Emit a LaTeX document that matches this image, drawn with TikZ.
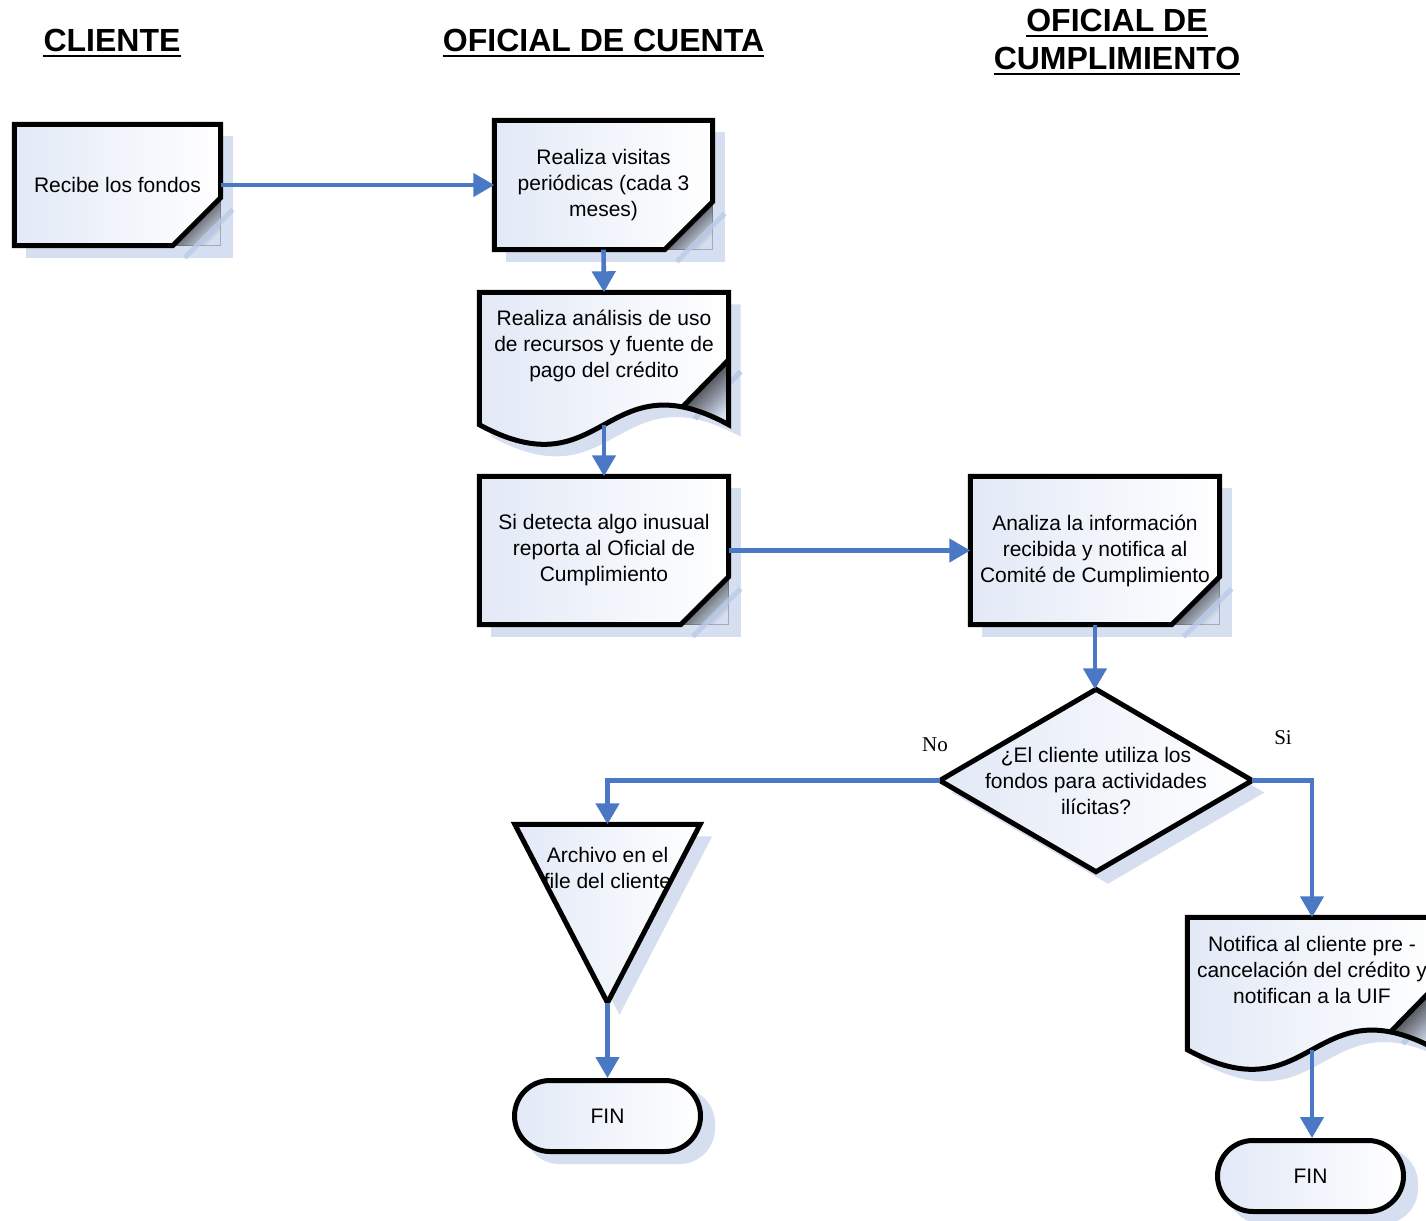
\documentclass[tikz,border=0pt]{standalone}
\usepackage{fontspec}
\setmainfont{Liberation Sans}
\newfontfamily\notefont{Liberation Serif}
\usetikzlibrary{calc,arrows.meta}

\definecolor{flowblue}{HTML}{4A78C4}
\definecolor{shadowc}{HTML}{D5DFF0}
\definecolor{shadowline}{HTML}{BACBE8}
\definecolor{fillA}{HTML}{E2E9F6}
\definecolor{folddark}{HTML}{3C3C3C}

\pgfdeclarelayer{bg}
\pgfsetlayers{bg,main}

\tikzset{
  body/.style={font=\fontsize{21}{26}\selectfont, align=center, inner sep=0pt},
  blk/.style 2 args={shape=rectangle, inner sep=0pt, minimum width=#1, minimum height=#2},
  outline/.style={draw=black, line width=5pt, line join=miter, miter limit=10},
  shapefill/.style={left color=fillA, right color=white},
  foldshade/.style={top color=black, middle color=folddark, bottom color=shadowc, shading angle=45},
  flow/.style={draw=flowblue, line width=4.6pt, -{Triangle[width=23pt,length=21pt]}},
  title/.style={font=\fontsize{32}{38}\selectfont\bfseries, inner sep=0pt, anchor=base},
  titlebar/.style={line width=2.6pt},
  branch/.style={font=\notefont\fontsize{21}{25}\selectfont, inner sep=0pt},
  terminal/.style={body, blk={186pt}{71pt}, rounded corners=35.5pt, outline, shapefill},
}

% process box with a folded lower right corner
\newcommand\procdeco[1]{%
  \fill[shadowc] ([shift={(12,12)}]#1.north west) rectangle ([shift={(12,12)}]#1.south east);
  \fill[foldshade]
    ([shift={(0,-48)}]#1.south east) -- (#1.south east) -- ([shift={(-48,0)}]#1.south east) -- cycle;
  \draw[shadowline, line width=5pt, opacity=.8] ([shift={(12,-36)}]#1.south east) -- ([shift={(-36,12)}]#1.south east);
  \path[outline, shapefill] (#1.north west) -- (#1.north east) -- ([shift={(0,-48)}]#1.south east)
    -- ([shift={(-48,0)}]#1.south east) -- (#1.south west) -- cycle;
}

% outline of a document shape, shifted by (#2,#3)
\newcommand\docpath[3]{([shift={(#2,#3)}]#1.north west) -- ([shift={(#2,#3)}]#1.north east)
  -- ([shift={(#2,#3)}]#1.south east) .. controls ([shift={(#2-125,#3-68)}]#1.south east)
  and ([shift={(#2+125,#3+68)}]#1.south west) .. ([shift={(#2,#3)}]#1.south west) -- cycle}

\newcommand\docdeco[1]{%
  \fill[shadowc] \docpath{#1}{12}{12};
  \draw[shadowline, line width=5pt] ([shift={(12,-53)}]#1.south east) -- ([shift={(-34,-6)}]#1.south east);
  \path[shapefill] \docpath{#1}{0}{0};
  \fill[foldshade]
    ([shift={(0,-65)}]#1.south east) -- ([shift={(-46,-18)}]#1.south east) -- (#1.south east) -- cycle;
  \path[outline] \docpath{#1}{0}{0};
  \draw[outline] ([shift={(0,-65)}]#1.south east) -- ([shift={(-46,-18)}]#1.south east);
}

\newcommand\diadeco[1]{%
  \fill[shadowc] ([shift={(12,12)}]#1.north) -- ([shift={(12,12)}]#1.east)
    -- ([shift={(12,12)}]#1.south) -- ([shift={(12,12)}]#1.west) -- cycle;
  \path[outline, shapefill] (#1.north) -- (#1.east) -- (#1.south) -- (#1.west) -- cycle;
}

\newcommand\trideco[1]{%
  \fill[shadowc] ([shift={(12,12)}]#1.north west) -- ([shift={(12,12)}]#1.north east)
    -- ([shift={(12,12)}]#1.south) -- cycle;
  \path[outline, shapefill] (#1.north west) -- (#1.north east) -- (#1.south) -- cycle;
}

\newcommand\termshadow[1]{%
  \fill[shadowc, rounded corners=35.5pt] ([shift={(12,10)}]#1.north west) rectangle ([shift={(12,10)}]#1.south east);
}

\begin{document}
\begin{tikzpicture}[x=1pt, y=-1pt]
\useasboundingbox (0,0) rectangle (1426,1220);

% lane headings
\node[title] (hcli) at (112,52) {CLIENTE};
\node[title] (hofc) at (603.5,52) {OFICIAL DE CUENTA};
\node[title] (hcum1) at (1117,32) {OFICIAL DE};
\node[title] (hcum2) at (1117,70) {CUMPLIMIENTO};
\foreach \h in {hcli,hofc,hcum1,hcum2}
  \draw[titlebar] ([yshift=-4pt]\h.base west) -- ([yshift=-4pt]\h.base east);

% steps
\node[body, blk={206pt}{121pt}] (recibe) at (117.5,185) {Recibe los fondos};
\node[body, blk={218pt}{129pt}] (visitas) at (603.5,185) {Realiza visitas\\periódicas (cada 3\\meses)};
\node[blk={249pt}{132pt}] (analisis) at (604,358.5) {};
\node[body] (analisis-t) at ($(analisis.center)+(0,-12.5)$) {Realiza análisis de uso\\de recursos y fuente de\\pago del crédito};
\node[body, blk={249pt}{148pt}] (detecta) at (604,550.5) {Si detecta algo inusual\\reporta al Oficial de\\Cumplimiento};
\node[body, blk={249pt}{148pt}] (analiza) at (1095,550.5) {Analiza la información\\recibida y notifica al\\Comité de Cumplimiento};
\node[body, blk={312pt}{182pt}] (decide) at (1096,780.5) {¿El cliente utiliza los\\fondos para actividades\\ilícitas?};
\node[blk={185pt}{178pt}] (archivo) at (607.5,913.5) {};
\node[body] (archivo-t) at ($(archivo.center)+(0,-45.5)$) {Archivo en el\\file del cliente};
\node[blk={249pt}{132pt}] (notifica) at (1312,983.5) {};
\node[body] (notifica-t) at ($(notifica.center)+(0,-13.5)$) {Notifica al cliente pre -\\cancelación del crédito y\\notifican a la UIF};
\node[terminal] (fin1) at (607.5,1116) {FIN};
\node[terminal] (fin2) at (1310.5,1176) {FIN};

% branch labels
\node[branch] (lno) at (935,745) {No};
\node[branch] (lsi) at (1283,738) {Si};

% connectors
\draw[flow] (recibe.east) -- (visitas.west);
\draw[flow] (visitas.south) -- (analisis.north);
\draw[flow] (analisis.south) -- (detecta.north);
\draw[flow] (detecta.east) -- (analiza.west);
\draw[flow] (analiza.south) -- (analiza.south |- decide.north);
\draw[flow] (decide.west) -| (archivo.north);
\draw[flow] (decide.east) -| (notifica.north);
\draw[flow] (archivo.south) -- (fin1.north);
\draw[flow] (notifica.south) -- (notifica.south |- fin2.north);

% shape bodies behind the text
\begin{pgfonlayer}{bg}
  \fill[white] (0,0) rectangle (1426,1220);
  \procdeco{recibe}
  \procdeco{visitas}
  \docdeco{analisis}
  \procdeco{detecta}
  \procdeco{analiza}
  \diadeco{decide}
  \trideco{archivo}
  \docdeco{notifica}
  \termshadow{fin1}
  \termshadow{fin2}
\end{pgfonlayer}
\end{tikzpicture}
\end{document}
